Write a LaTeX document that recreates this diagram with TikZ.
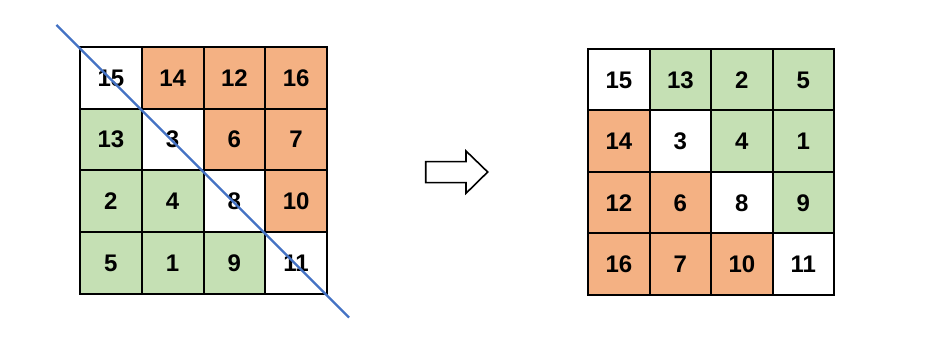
\documentclass[tikz,border=0pt]{standalone}
\usepackage{fontspec}
\setmainfont{Liberation Sans}
\definecolor{orng}{HTML}{F4B183}
\definecolor{grn}{HTML}{C5E0B4}
\definecolor{lineblue}{HTML}{4472C4}
\newcommand{\cellfont}{\fontsize{24}{26}\selectfont\bfseries}
\begin{document}
\begin{tikzpicture}[x=1pt,y=-1pt,
  cell/.style={draw=black,line width=2pt,minimum width=61.75pt,minimum height=61.75pt,inner sep=0pt,anchor=north west},
  w/.style={cell,fill=white},
  o/.style={cell,fill=orng},
  g/.style={cell,fill=grn},
  diag/.style={draw=lineblue,line width=2.2pt},
  bigarrow/.style={draw=black,line width=1.6pt,fill=white,line join=miter}]
\useasboundingbox (0,0) rectangle (929,344);
% left grid
\foreach \r/\row in {0/{15/w,14/o,12/o,16/o},1/{13/g,3/w,6/o,7/o},2/{2/g,4/g,8/w,10/o},3/{5/g,1/g,9/g,11/w}}{
  \foreach \v/\s [count=\c from 0] in \row {
    \node[\s] (L\r\c) at ({79+61.75*\c},{46+61.75*\r}) {\cellfont\v};
  }
}
% right grid
\foreach \r/\row in {0/{15/w,13/g,2/g,5/g},1/{14/o,3/w,4/g,1/g},2/{12/o,6/o,8/w,9/g},3/{16/o,7/o,10/o,11/w}}{
  \foreach \v/\s [count=\c from 0] in \row {
    \node[\s] (R\r\c) at ({587+61.5*\c},{48+61.5*\r}) {\cellfont\v};
  }
}
% diagonal
\coordinate (ds) at (56.5,25);
\coordinate (de) at (349,317.5);
\draw[diag] (ds) -- (de);
% arrow
\draw[bigarrow] (425.7,161.7) -- (466,161.7) -- (466,151) -- (487.7,172) -- (466,193.3) -- (466,182.7) -- (425.7,182.7) -- cycle;
\end{tikzpicture}
\end{document}
